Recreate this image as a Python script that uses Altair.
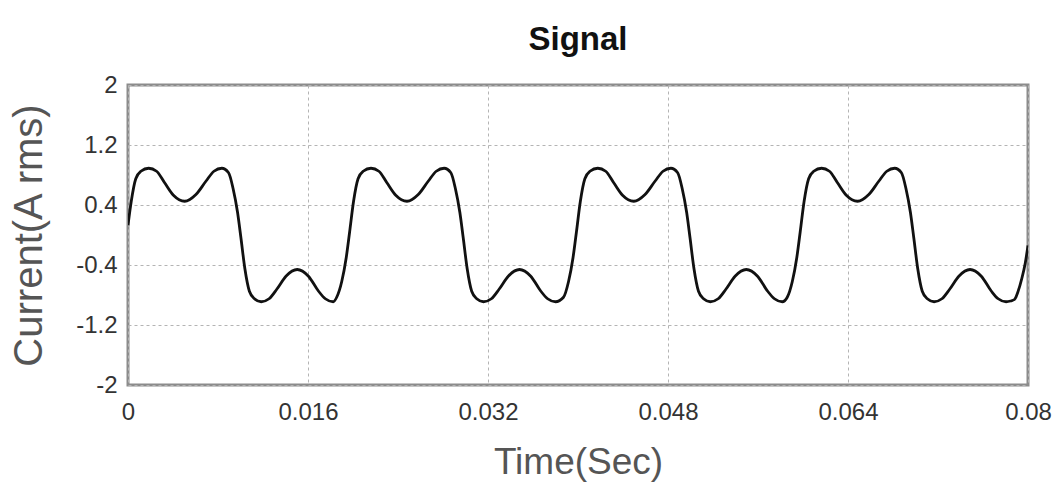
import altair as alt
import pandas as pd

# Time (ms) and current (A rms), cycle by cycle
t_c1 = [0.00, 0.29, 0.69, 1.14, 1.84, 2.54, 3.24, 4.04, 5.04, 6.04, 6.94, 7.64, 8.34, 8.94, 9.34, 9.74,
        10.04, 10.39, 10.79, 11.24, 11.84, 12.54, 13.24, 14.04, 15.04, 16.04, 16.94, 17.54, 18.24,
        18.55, 19.00, 19.40]
i_c1 = [0.13, 0.45, 0.75, 0.85, 0.89, 0.85, 0.70, 0.53, 0.45, 0.54, 0.72, 0.85, 0.89, 0.83, 0.62, 0.30,
        -0.04, -0.45, -0.75, -0.85, -0.89, -0.85, -0.72, -0.55, -0.46, -0.55, -0.75, -0.85, -0.89,
        -0.83, -0.62, -0.30]

t_c2 = [19.70, 20.05, 20.45, 20.90, 21.60, 22.30, 23.00, 23.80, 24.80, 25.80, 26.70, 27.40, 28.10, 28.70,
        29.10, 29.50, 29.80, 30.15, 30.55, 31.00, 31.60, 32.30, 33.00, 33.80, 34.80, 35.80, 36.70, 37.30,
        38.00, 38.71, 39.16, 39.56]
i_c2 = [0.04, 0.45, 0.75, 0.85, 0.89, 0.85, 0.70, 0.53, 0.45, 0.54, 0.72, 0.85, 0.89, 0.83, 0.62, 0.30,
        -0.04, -0.45, -0.75, -0.85, -0.89, -0.85, -0.72, -0.55, -0.46, -0.55, -0.75, -0.85, -0.89,
        -0.83, -0.62, -0.30]

t_c3 = [39.86, 40.21, 40.61, 41.06, 41.76, 42.46, 43.16, 43.96, 44.96, 45.96, 46.86, 47.56, 48.26, 48.86,
        49.26, 49.66, 49.96, 50.31, 50.71, 51.16, 51.76, 52.46, 53.16, 53.96, 54.96, 55.96, 56.86, 57.46,
        58.16, 58.60, 59.05, 59.45]
i_c3 = [0.04, 0.45, 0.75, 0.85, 0.89, 0.85, 0.70, 0.53, 0.45, 0.54, 0.72, 0.85, 0.89, 0.83, 0.62, 0.30,
        -0.04, -0.45, -0.75, -0.85, -0.89, -0.85, -0.72, -0.55, -0.46, -0.55, -0.75, -0.85, -0.89,
        -0.83, -0.62, -0.30]

t_c4 = [59.75, 60.10, 60.50, 60.95, 61.65, 62.35, 63.05, 63.85, 64.85, 65.85, 66.75, 67.45, 68.15, 68.75,
        69.15, 69.55, 69.85, 70.20, 70.60, 71.05, 71.65, 72.35, 73.05, 73.85, 74.85, 75.85, 76.75, 77.35,
        78.05, 78.45, 78.80, 79.10, 79.45, 79.75, 80.00]
i_c4 = [0.04, 0.45, 0.75, 0.85, 0.89, 0.85, 0.70, 0.53, 0.45, 0.54, 0.72, 0.85, 0.89, 0.83, 0.62, 0.30,
        -0.04, -0.45, -0.75, -0.85, -0.89, -0.85, -0.72, -0.55, -0.46, -0.55, -0.75, -0.85, -0.89,
        -0.88, -0.86, -0.76, -0.58, -0.38, -0.14]

x_ticks = [0, 0.016, 0.032, 0.048, 0.064, 0.08]
y_ticks = [-2, -1.2, -0.4, 0.4, 1.2, 2]

time_ms = t_c1 + t_c2 + t_c3 + t_c4
current = i_c1 + i_c2 + i_c3 + i_c4
df = pd.DataFrame({"t": [v / 1000.0 for v in time_ms], "i": current})

label_font = "Liberation Sans"

chart = (
    alt.Chart(df)
    .mark_line(color="#111111", strokeWidth=2.8, interpolate="monotone", clip=True)
    .encode(
        x=alt.X(
            "t:Q",
            scale=alt.Scale(domain=[0, 0.08], nice=False, zero=False),
            axis=alt.Axis(
                values=x_ticks,
                title="Time(Sec)",
                labelExpr="toString(datum.value)",
                labelPadding=15,
                titlePadding=20,
                titleFontSize=37,
            ),
        ),
        y=alt.Y(
            "i:Q",
            scale=alt.Scale(domain=[-2, 2], nice=False, zero=False),
            axis=alt.Axis(
                values=y_ticks,
                title="Current(A rms)",
                labelExpr="toString(datum.value)",
                labelPadding=11,
                titlePadding=26,
                titleFontSize=40,
            ),
        ),
    )
    .properties(
        width=900,
        height=300,
        title=alt.TitleParams(
            "Signal", fontSize=33, fontWeight="bold", font="Liberation Sans",
            color="#111111", anchor="middle", offset=16,
        ),
        autosize="none",
        padding={"left": 128, "top": 85, "right": 24, "bottom": 107},
    )
    .configure_view(stroke="#8c8c8c", strokeWidth=3)
    .configure_axis(
        grid=True,
        gridColor="#b4b4b4",
        gridDash=[3, 3],
        gridWidth=1,
        ticks=False,
        domain=False,
        labelFont=label_font,
        labelFontSize=24,
        labelColor="#333333",
        labelFlush=False,
        labelOverlap=False,
        titleFont=label_font,
        titleFontWeight="normal",
        titleColor="#555555",
    )
)

chart.save("out.html", embed_options={"renderer": "svg", "actions": False})
